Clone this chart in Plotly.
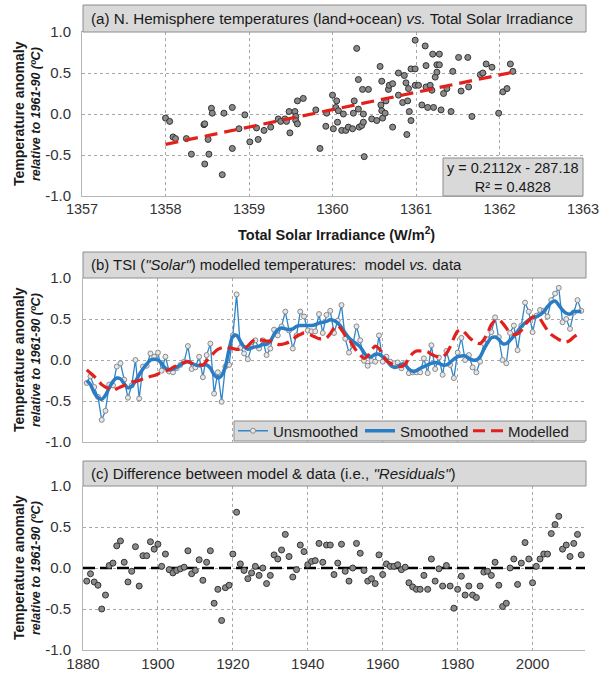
import plotly.graph_objects as go

# ---------------- DATA ----------------
# Panel (a): scatter of TSI vs temperature anomaly
tsi = [1358.00,1358.05,1358.09,1358.12,1358.25,1358.31,1358.46,1358.47,1358.47,1358.51,
       1358.52,1358.55,1358.56,1358.68,1358.70,1358.80,1358.80,1358.88,1358.95,1359.01,
       1359.09,1359.11,1359.18,1359.26,1359.35,1359.38,1359.43,1359.45,1359.48,1359.49,
       1359.55,1359.56,1359.56,1359.58,1359.58,1359.65,1359.80,1359.85,1359.92,1359.93,
       1360.00,1360.01,1360.04,1360.05,1360.06,1360.07,1360.11,1360.13,1360.16,1360.19,
       1360.24,1360.25,1360.26,1360.29,1360.31,1360.31,1360.32,1360.35,1360.36,1360.37,
       1360.38,1360.37,1360.43,1360.47,1360.53,1360.57,1360.58,1360.59,1360.59,1360.60,
       1360.63,1360.64,1360.67,1360.68,1360.72,1360.72,1360.79,1360.79,1360.84,1360.86,
       1360.88,1360.89,1360.90,1360.91,1360.92,1360.94,1360.94,1360.99,1360.99,1360.99,
       1361.03,1361.07,1361.11,1361.12,1361.12,1361.14,1361.17,1361.19,1361.20,1361.21,
       1361.23,1361.25,1361.25,1361.28,1361.28,1361.30,1361.33,1361.37,1361.42,1361.44,
       1361.51,1361.54,1361.62,1361.63,1361.67,1361.77,1361.80,1361.84,1361.91,1361.99,
       1362.04,1362.09,1362.13,1362.16]
tsi_temp = [-0.05,-0.09,-0.28,-0.30,-0.30,-0.49,-0.13,-0.12,-0.61,-0.31,
            -0.49,0.07,0.01,-0.74,0.01,-0.42,0.08,-0.18,-0.01,-0.34,
            -0.17,-0.31,-0.20,-0.16,-0.06,-0.09,-0.06,-0.09,0.03,-0.23,
            0.03,-0.03,-0.08,-0.12,0.16,0.19,0.05,-0.42,-0.15,0.01,
            0.23,-0.18,0.08,0.16,-0.10,0.04,-0.20,0.00,-0.20,-0.16,
            -0.18,0.01,0.16,0.80,0.42,0.06,-0.16,-0.14,0.30,0.00,
            -0.52,-0.10,0.30,-0.06,-0.08,0.58,0.11,0.40,0.04,-0.05,
            0.01,0.16,0.30,0.35,0.37,-0.16,0.50,0.23,0.14,0.47,
            0.38,-0.25,0.16,0.31,0.03,-0.08,0.55,0.90,0.55,0.35,
            0.35,0.11,0.83,0.59,0.33,0.08,0.35,0.29,0.73,0.08,
            0.45,0.60,0.51,0.73,0.60,0.05,0.25,0.31,0.03,0.52,
            0.69,0.28,0.69,0.33,-0.03,0.48,0.50,0.61,0.57,0.01,
            0.27,0.31,0.61,0.52]
trend_x = [1358.0, 1362.16]
trend_y = [-0.37, 0.51]

# Panels (b) and (c): yearly series 1881-2013
years = list(range(1881, 2014))
unsmoothed = [-0.28,-0.20,-0.33,-0.45,-0.73,-0.62,-0.30,-0.31,-0.08,-0.04,
              -0.24,-0.46,-0.31,0.00,-0.47,-0.08,-0.07,0.08,0.04,0.09,
              -0.13,0.04,-0.14,-0.15,-0.10,-0.06,-0.02,0.17,-0.11,-0.09,
              0.04,-0.21,0.06,0.20,-0.41,-0.15,-0.51,-0.08,-0.06,0.30,
              0.80,0.15,0.08,0.01,0.16,0.24,0.14,0.24,0.06,0.14,
              0.37,0.30,0.41,0.59,0.36,0.14,0.30,0.59,0.53,0.36,
              0.35,0.35,0.56,0.33,0.55,0.60,0.33,0.48,0.67,0.26,
              0.09,0.18,0.41,0.24,-0.01,-0.07,-0.01,-0.02,0.30,-0.02,
              0.04,-0.02,-0.04,-0.03,-0.10,-0.04,-0.16,-0.15,-0.15,-0.15,
              0.02,-0.16,0.18,-0.11,0.03,-0.18,0.11,-0.06,-0.22,0.09,
              0.27,0.00,0.06,-0.09,-0.15,-0.02,0.20,0.25,0.34,0.52,
              0.28,0.00,-0.04,0.33,0.42,0.12,0.42,0.70,0.59,0.34,
              0.54,0.61,0.60,0.53,0.73,0.81,0.88,0.46,0.50,0.38,
              0.58,0.73,0.60]
smoothed = [-0.25,-0.30,-0.40,-0.46,-0.48,-0.43,-0.34,-0.26,-0.22,-0.23,
            -0.29,-0.34,-0.32,-0.26,-0.18,-0.11,-0.05,0.00,0.01,0.00,
            -0.04,-0.10,-0.12,-0.11,-0.09,-0.06,-0.03,-0.02,-0.04,-0.06,
            -0.07,-0.06,-0.06,-0.10,-0.18,-0.22,-0.19,-0.08,0.13,0.29,
            0.30,0.23,0.16,0.13,0.15,0.16,0.17,0.19,0.19,0.23,
            0.31,0.37,0.39,0.38,0.37,0.38,0.41,0.42,0.42,0.42,
            0.42,0.43,0.45,0.46,0.47,0.49,0.48,0.45,0.40,0.33,
            0.27,0.23,0.20,0.16,0.09,0.04,0.04,0.07,0.07,0.04,
            0.00,-0.06,-0.09,-0.08,-0.05,-0.06,-0.11,-0.14,-0.13,-0.10,
            -0.08,-0.06,-0.04,-0.03,-0.04,-0.06,-0.06,-0.03,0.01,0.04,
            0.05,0.05,0.02,0.00,0.00,0.04,0.13,0.21,0.27,0.28,
            0.25,0.20,0.20,0.24,0.29,0.35,0.41,0.45,0.49,0.52,
            0.53,0.55,0.59,0.65,0.70,0.72,0.67,0.61,0.57,0.56,
            0.59,0.59,0.59]
modelled = [-0.12,-0.16,-0.20,-0.25,-0.30,-0.33,-0.35,-0.37,-0.35,-0.33,
            -0.31,-0.29,-0.27,-0.26,-0.25,-0.23,-0.22,-0.20,-0.19,-0.17,
            -0.15,-0.13,-0.12,-0.09,-0.07,-0.05,-0.03,-0.02,-0.04,-0.06,
            -0.06,-0.06,-0.01,0.04,0.09,0.13,0.15,0.16,0.15,0.14,
            0.13,0.13,0.15,0.17,0.22,0.25,0.25,0.24,0.23,0.23,
            0.21,0.19,0.19,0.20,0.22,0.25,0.29,0.31,0.33,0.32,
            0.30,0.28,0.26,0.26,0.27,0.32,0.39,0.42,0.37,0.30,
            0.25,0.18,0.11,0.06,0.02,0.05,0.12,0.17,0.14,0.06,
            -0.01,-0.04,-0.06,-0.07,-0.08,-0.05,0.02,0.08,0.11,0.11,
            0.11,0.10,0.07,0.05,0.04,0.04,0.08,0.16,0.27,0.35,
            0.37,0.33,0.28,0.24,0.21,0.20,0.25,0.33,0.43,0.48,
            0.49,0.45,0.39,0.33,0.31,0.32,0.36,0.43,0.48,0.52,
            0.52,0.50,0.43,0.36,0.31,0.28,0.25,0.23,0.22,0.24,
            0.28,0.31,0.32]
residuals = [-0.16,-0.07,-0.17,-0.21,-0.50,-0.33,0.03,0.06,0.27,0.33,
             0.07,-0.17,-0.04,0.26,-0.22,0.15,0.15,0.32,0.23,0.29,
             0.02,0.17,-0.02,-0.06,-0.03,-0.01,0.01,0.21,-0.07,-0.03,
             0.10,-0.15,0.07,0.21,-0.43,-0.26,-0.64,-0.24,-0.21,0.17,
             0.68,0.05,-0.03,-0.13,-0.06,0.02,-0.09,0.00,-0.19,-0.09,
             0.16,0.11,0.22,0.41,0.14,-0.11,-0.02,0.28,0.20,0.04,
             0.08,0.09,0.30,0.07,0.28,0.28,-0.08,0.06,0.29,-0.04,
             -0.16,0.00,0.30,0.18,-0.03,-0.16,-0.13,-0.19,0.16,-0.08,
             0.05,0.02,0.02,0.04,-0.02,0.01,-0.18,-0.23,-0.26,-0.26,
             -0.09,-0.26,0.11,-0.16,-0.01,-0.22,0.03,-0.22,-0.49,-0.26,
             -0.10,-0.33,-0.22,-0.33,-0.36,-0.22,-0.05,-0.04,-0.09,0.07,
             -0.21,-0.47,-0.43,0.00,0.11,-0.20,0.06,0.31,0.11,-0.18,
             0.02,0.11,0.17,0.17,0.42,0.53,0.63,0.23,0.28,0.14,
             0.30,0.41,0.16]
zero_x = [1880, 2014]
zero_y = [0, 0]

y_ticks = [-1.0, -0.5, 0.0, 0.5, 1.0]
y_ticktext = ["-1.0", "-0.5", "0.0", "0.5", "1.0"]
tsi_ticks = [1357, 1358, 1359, 1360, 1361, 1362, 1363]
year_ticks = [1880, 1900, 1920, 1940, 1960, 1980, 2000]

# ---------------- LAYOUT HELPERS ----------------
W, H = 600, 678
FONT = "Arial, 'Liberation Sans', sans-serif"
def px(p): return p / W
def py(p): return 1 - p / H

X0, X1 = 83, 585
XA0, XA1 = 82, 583
panels = {"a": (32, 196), "b": (278, 442), "c": (486, 650)}

fig = go.Figure()

GREY_MK = dict(size=6, color="#8a8a8a", line=dict(color="#333333", width=1))

# (a)
fig.add_trace(go.Scatter(x=tsi, y=tsi_temp, mode="markers", marker=GREY_MK,
                         xaxis="x", yaxis="y", showlegend=False))
fig.add_trace(go.Scatter(x=trend_x, y=trend_y, mode="lines",
                         line=dict(color="#e3201b", width=3.2, dash="13px,7px"),
                         xaxis="x", yaxis="y", showlegend=False))
# (b)
fig.add_trace(go.Scatter(x=years, y=unsmoothed, mode="lines+markers", name="Unsmoothed",
                         line=dict(color="#2f86c8", width=1.3),
                         marker=dict(size=5, color="#e6e6e6", line=dict(color="#8a8a8a", width=1)),
                         xaxis="x2", yaxis="y2", legend="legend"))
fig.add_trace(go.Scatter(x=years, y=smoothed, mode="lines", name="Smoothed",
                         line=dict(color="#2a7cc4", width=3.5, shape="spline", smoothing=0.8),
                         xaxis="x2", yaxis="y2", legend="legend2"))
fig.add_trace(go.Scatter(x=years, y=modelled, mode="lines", name="Modelled",
                         line=dict(color="#e3201b", width=3.2, dash="12px,6px", shape="spline", smoothing=0.8),
                         xaxis="x2", yaxis="y2", legend="legend3"))
# (c)
fig.add_trace(go.Scatter(x=zero_x, y=zero_y, mode="lines",
                         line=dict(color="black", width=2.6, dash="12px,5px"),
                         xaxis="x3", yaxis="y3", showlegend=False))
fig.add_trace(go.Scatter(x=years, y=residuals, mode="markers", marker=GREY_MK,
                         xaxis="x3", yaxis="y3", showlegend=False))

grid = dict(showgrid=True, gridcolor="#a8a8a8", griddash="dot", gridwidth=1,
            zeroline=False, showline=True, linecolor="#b5b5b5", linewidth=1,
            automargin=False, ticks="", ticklabeloverflow="allow")
tf15 = dict(family=FONT, size=15, color="#333333")
tf_a = dict(family=FONT, size=14.5, color="#333333")

def ydom(k):
    t, b = panels[k]
    return [py(b), py(t)]

def leg(xp):
    return dict(orientation="h", x=px(xp), xanchor="left", y=py(431), yanchor="middle",
                bgcolor="rgba(0,0,0,0)", borderwidth=0,
                font=dict(family=FONT, size=15, color="#222222"))

layout = dict(
    template="none",
    width=W, height=H, margin=dict(l=0, r=0, t=0, b=0, pad=0, autoexpand=False),
    paper_bgcolor="white", plot_bgcolor="white",
    font=dict(family=FONT, color="#222222"),
    xaxis=dict(domain=[px(XA0), px(XA1)], range=[1357, 1363], tickvals=tsi_ticks,
               anchor="y", mirror=True, tickfont=tf_a, **grid),
    yaxis=dict(domain=ydom("a"), range=[-1, 1], tickvals=y_ticks, ticktext=y_ticktext,
               anchor="x", ticklabelstandoff=7, tickfont=tf15, **grid),
    xaxis2=dict(domain=[px(X0), px(X1)], range=[1880, 2014], tickvals=year_ticks,
                showticklabels=False, anchor="y2", tickfont=tf15, **grid),
    yaxis2=dict(domain=ydom("b"), range=[-1, 1], tickvals=y_ticks, ticktext=y_ticktext,
                anchor="x2", ticklabelstandoff=8, tickfont=tf15, **grid),
    xaxis3=dict(domain=[px(X0), px(X1)], range=[1880, 2014], tickvals=year_ticks,
                anchor="y3", tickfont=tf15, **grid),
    yaxis3=dict(domain=ydom("c"), range=[-1, 1], tickvals=y_ticks, ticktext=y_ticktext,
                anchor="x3", ticklabelstandoff=8, tickfont=tf15, **grid),
    legend=leg(233), legend2=leg(360), legend3=leg(468),
)
fig.update_layout(**layout)

shapes = []
annotations = []
titles = {
    "a": "(a) N. Hemisphere temperatures (land+ocean) <i>vs.</i> Total Solar Irradiance",
    "b": "(b) TSI (<i>\"Solar\"</i>) modelled temperatures:  model <i>vs.</i> data",
    "c": "(c) Difference between model &amp; data (i.e., <i>\"Residuals\"</i>)",
}
title_sizes = {"a": 15.2, "b": 14.9, "c": 15.1}
box_tops = {"a": 5, "b": 252, "c": 461}
for k, (t, b) in panels.items():
    bt = box_tops[k]
    shapes.append(dict(type="rect", xref="paper", yref="paper",
                       x0=px(X0), x1=px(X1 + 1), y0=py(t), y1=py(bt),
                       fillcolor="#d9d9d9", line=dict(color="#8c8c8c", width=1), layer="above"))
    annotations.append(dict(text=titles[k], xref="paper", yref="paper",
                            x=px(89), y=py((t + bt) / 2), xanchor="left", yanchor="middle",
                            showarrow=False, font=dict(family=FONT, size=title_sizes[k], color="#1a1a1a")))
    mid = (t + b) / 2
    annotations.append(dict(text="<b>Temperature anomaly</b>", xref="paper", yref="paper",
                            x=px(19), y=py(mid), textangle=-90, showarrow=False,
                            xanchor="center", yanchor="middle",
                            font=dict(family=FONT, size=14, color="#1a1a1a")))
    annotations.append(dict(text="<b><i>relative to 1961-90 (ºC)</i></b>", xref="paper", yref="paper",
                            x=px(36), y=py(mid), textangle=-90, showarrow=False,
                            xanchor="center", yanchor="middle",
                            font=dict(family=FONT, size=12.5, color="#1a1a1a")))

# equation box (a)
shapes.append(dict(type="rect", xref="paper", yref="paper", x0=px(443), x1=px(583),
                   y0=py(196), y1=py(158), fillcolor="#d9d9d9",
                   line=dict(color="#8c8c8c", width=1), layer="above"))
annotations.append(dict(text="y = 0.2112x - 287.18<br>R² = 0.4828", xref="paper", yref="paper",
                        x=px(513), y=py(177), showarrow=False, align="center",
                        xanchor="center", yanchor="middle",
                        font=dict(family=FONT, size=14.5, color="#1a1a1a")))
# legend box (b)
shapes.append(dict(type="rect", xref="paper", yref="paper", x0=px(234), x1=px(586),
                   y0=py(441), y1=py(421), fillcolor="#d9d9d9",
                   line=dict(color="#8c8c8c", width=1), layer="above"))
# x-axis title (a)
annotations.append(dict(text="<b>Total Solar Irradiance (W/m<sup>2</sup>)</b>", xref="paper", yref="paper",
                        x=px(336), y=py(234), showarrow=False, xanchor="center", yanchor="middle",
                        font=dict(family=FONT, size=14.5, color="#1a1a1a")))

fig.update_layout(shapes=shapes, annotations=annotations)
fig.write_html("out.html", config={"displayModeBar": False},
               post_script="document.body.style.margin='0px';document.body.style.overflow='hidden';")
